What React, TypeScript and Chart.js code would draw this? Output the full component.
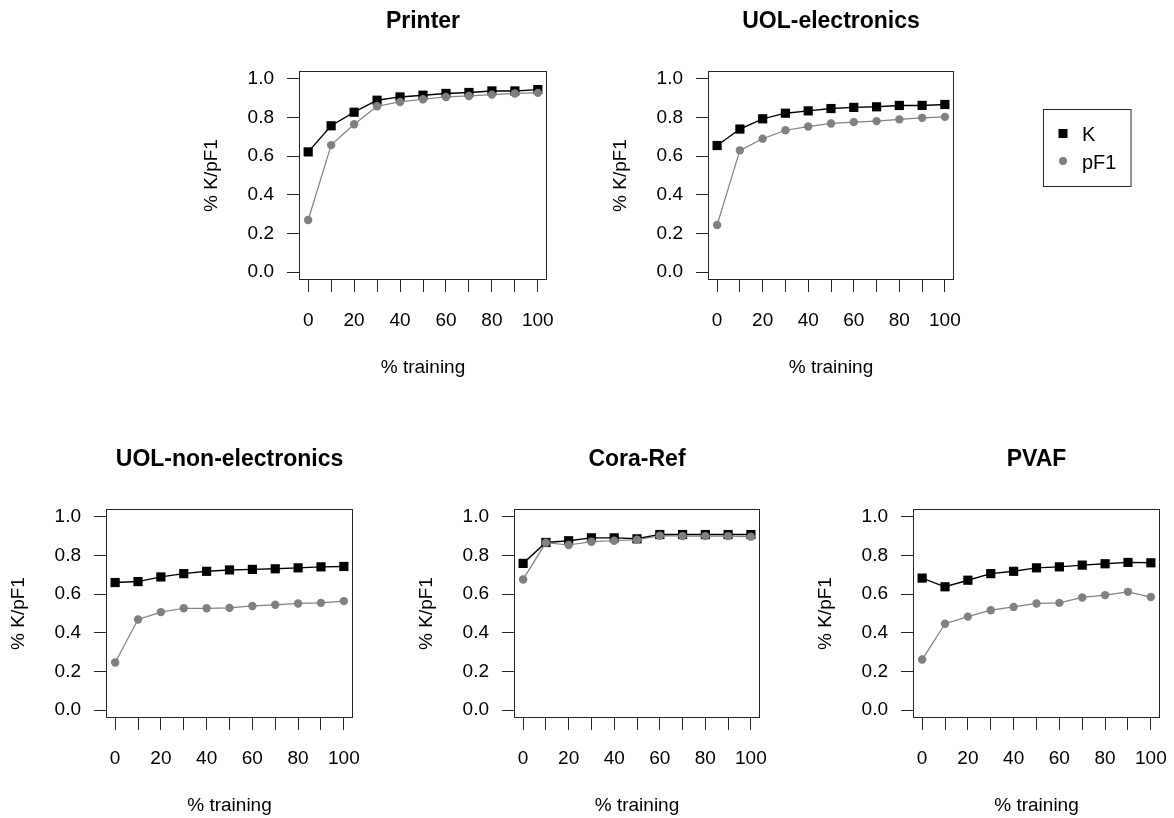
import React, { useEffect, useRef } from 'react';
import { Chart, registerables } from 'chart.js';

Chart.register(...registerables);
Chart.defaults.font.family = "'Liberation Sans', Arial, Helvetica, sans-serif";

// ---------- data ----------
const trainingPct = [0, 10, 20, 30, 40, 50, 60, 70, 80, 90, 100];
const xTickValues = [0, 10, 20, 30, 40, 50, 60, 70, 80, 90, 100];
const xLabelValues = [0, 20, 40, 60, 80, 100];
const yTickValues = [0, 0.2, 0.4, 0.6, 0.8, 1.0];
const seriesNames = ['K', 'pF1'];

const printerK = [0.622, 0.757, 0.827, 0.889, 0.906, 0.915, 0.924, 0.929, 0.937, 0.937, 0.944];
const printerPF1 = [0.270, 0.657, 0.765, 0.858, 0.880, 0.894, 0.906, 0.911, 0.918, 0.924, 0.927];

const uolElecK = [0.655, 0.740, 0.793, 0.822, 0.834, 0.846, 0.852, 0.855, 0.862, 0.862, 0.867];
const uolElecPF1 = [0.244, 0.630, 0.690, 0.734, 0.753, 0.769, 0.776, 0.781, 0.790, 0.798, 0.803];

const uolNonElecK = [0.660, 0.665, 0.689, 0.706, 0.718, 0.725, 0.728, 0.731, 0.736, 0.741, 0.743];
const uolNonElecPF1 = [0.247, 0.469, 0.507, 0.527, 0.527, 0.529, 0.539, 0.545, 0.552, 0.555, 0.564];

const coraRefK = [0.759, 0.867, 0.876, 0.891, 0.891, 0.886, 0.908, 0.908, 0.908, 0.908, 0.908];
const coraRefPF1 = [0.676, 0.866, 0.854, 0.871, 0.876, 0.881, 0.902, 0.900, 0.900, 0.900, 0.897];

const pvafK = [0.683, 0.638, 0.672, 0.706, 0.718, 0.736, 0.741, 0.750, 0.757, 0.764, 0.762];
const pvafPF1 = [0.262, 0.447, 0.484, 0.517, 0.534, 0.552, 0.555, 0.583, 0.595, 0.612, 0.585];

const panelTitles = ['Printer', 'UOL-electronics', 'UOL-non-electronics', 'Cora-Ref', 'PVAF'];
const panelK = [printerK, uolElecK, uolNonElecK, coraRefK, pvafK];
const panelPF1 = [printerPF1, uolElecPF1, uolNonElecPF1, coraRefPF1, pvafPF1];

const xAxisTitle = '% training';
const yAxisTitle = '% K/pF1';

// ---------- layout (page pixels) ----------
const PAGE_W = 1174;
const PAGE_H = 818;
const BOX_H = 209;
const ABOVE = 71; // canvas space above the plot box (title)
const BELOW = 100; // x-axis block
const LEFT = 110; // space left of the box (padding + y axis)
const Y_AXIS_W = 100;
const panelBoxes = [
  { left: 299, top: 71, width: 248 },
  { left: 708, top: 71, width: 246 },
  { left: 106, top: 509, width: 247 },
  { left: 514, top: 509, width: 246 },
  { left: 913, top: 509, width: 247 },
];
const legendBox = { left: 1043.5, top: 109.5, width: 87.5, height: 77 };

const K_COLOR = '#000000';
const F_COLOR = '#808080';
const TEXT = '#000000';
const FRAME = '#262626';

const framePlugin = {
  id: 'frame',
  afterDatasetsDraw(chart: any) {
    const { ctx, chartArea: a } = chart;
    ctx.save();
    ctx.strokeStyle = FRAME;
    ctx.lineWidth = 1;
    ctx.strokeRect(Math.round(a.left) + 0.5, Math.round(a.top) + 0.5, Math.round(a.width) - 1, Math.round(a.height) - 1);
    ctx.restore();
  },
};

function makeLegendPlugin(offX: number, offY: number) {
  return {
    id: 'rLegend',
    afterDraw(chart: any) {
      const ctx = chart.ctx;
      const ds = chart.data.datasets;
      ctx.save();
      ctx.strokeStyle = FRAME;
      ctx.lineWidth = 1;
      ctx.strokeRect(legendBox.left - offX, legendBox.top - offY, legendBox.width, legendBox.height);
      const mx = 1063 - offX;
      const rows = [133.5 - offY, 161 - offY];
      ctx.font = "20px 'Liberation Sans', Arial, sans-serif";
      ctx.textBaseline = 'middle';
      ctx.textAlign = 'left';
      ds.forEach((d: any, i: number) => {
        const y = rows[i];
        ctx.fillStyle = d.backgroundColor;
        if (d.pointStyle === 'rect') {
          ctx.fillRect(mx - 4.5, y - 4.5, 9, 9);
        } else {
          ctx.beginPath();
          ctx.arc(mx, y, 4, 0, Math.PI * 2);
          ctx.fill();
        }
        ctx.fillStyle = TEXT;
        ctx.fillText(d.label, 1082 - offX, y + 2);
      });
      ctx.restore();
    },
  };
}

function Panel({ idx, withLegend }: { idx: number; withLegend: boolean }) {
  const ref = useRef<HTMLCanvasElement | null>(null);
  const box = panelBoxes[idx];
  const cLeft = box.left - LEFT;
  const cTop = box.top - ABOVE;
  const cWidth = withLegend ? PAGE_W - cLeft : LEFT + box.width + 30;
  const cHeight = ABOVE + BOX_H + BELOW;
  const padRight = cWidth - LEFT - box.width;

  useEffect(() => {
    if (!ref.current) return;
    const plugins: any[] = [framePlugin];
    if (withLegend) plugins.push(makeLegendPlugin(cLeft, cTop));
    const chart = new Chart(ref.current, {
      type: 'line',
      data: {
        datasets: [
          {
            label: seriesNames[0],
            data: trainingPct.map((x, i) => ({ x, y: panelK[idx][i] })),
            borderColor: K_COLOR,
            backgroundColor: K_COLOR,
            borderWidth: 1.4,
            pointStyle: 'rect',
            pointRadius: 6.5,
            pointBorderWidth: 0,
            pointBackgroundColor: K_COLOR,
            order: 2,
          },
          {
            label: seriesNames[1],
            data: trainingPct.map((x, i) => ({ x, y: panelPF1[idx][i] })),
            borderColor: F_COLOR,
            backgroundColor: F_COLOR,
            borderWidth: 1.2,
            pointStyle: 'circle',
            pointRadius: 4.2,
            pointBorderWidth: 0,
            pointBackgroundColor: F_COLOR,
            order: 1,
          },
        ],
      },
      options: {
        animation: false,
        responsive: false,
        devicePixelRatio: 1,
        events: [],
        layout: { padding: { left: LEFT - Y_AXIS_W, right: padRight, top: 0, bottom: 0 } },
        plugins: {
          legend: { display: false },
          tooltip: { enabled: false },
          title: {
            display: true,
            text: panelTitles[idx],
            fullSize: false,
            color: TEXT,
            font: { size: 23, weight: 'bold', lineHeight: 1.2 },
            padding: { top: 7.9, bottom: 35.5 },
          },
        },
        scales: {
          x: {
            type: 'linear',
            min: -4,
            max: 104,
            afterBuildTicks: (s: any) => {
              s.ticks = xTickValues.map((v) => ({ value: v }));
            },
            afterFit: (s: any) => {
              s.height = BELOW;
            },
            grid: { drawOnChartArea: false, drawTicks: true, tickLength: 12, color: FRAME, lineWidth: 1 },
            border: { display: false },
            ticks: {
              autoSkip: false,
              maxRotation: 0,
              minRotation: 0,
              padding: 17,
              color: TEXT,
              font: { size: 19 },
              callback: (v: any) => (xLabelValues.includes(Number(v)) ? String(v) : ''),
            },
            title: {
              display: true,
              text: xAxisTitle,
              color: TEXT,
              font: { size: 19 },
              padding: { top: 0, bottom: 0.5 },
            },
          },
          y: {
            type: 'linear',
            min: -0.04,
            max: 1.04,
            afterBuildTicks: (s: any) => {
              s.ticks = yTickValues.map((v) => ({ value: v }));
            },
            afterFit: (s: any) => {
              s.width = Y_AXIS_W;
            },
            grid: { drawOnChartArea: false, drawTicks: true, tickLength: 12, color: FRAME, lineWidth: 1 },
            border: { display: false },
            ticks: {
              autoSkip: false,
              padding: 13,
              color: TEXT,
              font: { size: 19 },
              callback: (v: any) => Number(v).toFixed(1),
            },
            title: {
              display: true,
              text: yAxisTitle,
              color: TEXT,
              font: { size: 19 },
              padding: { top: 1.6, bottom: 0 },
            },
          },
        },
      } as any,
      plugins,
    });
    return () => chart.destroy();
  }, [idx, withLegend]);

  return (
    <canvas
      ref={ref}
      width={cWidth}
      height={cHeight}
      style={{ position: 'absolute', left: cLeft, top: cTop, width: cWidth, height: cHeight }}
    />
  );
}

export default function App() {
  return (
    <div style={{ position: 'absolute', left: 0, top: 0, width: PAGE_W, height: PAGE_H, background: '#ffffff', overflow: 'hidden' }}>
      {panelTitles.map((_, i) => (
        <Panel key={i} idx={i} withLegend={i === 1} />
      ))}
    </div>
  );
}
